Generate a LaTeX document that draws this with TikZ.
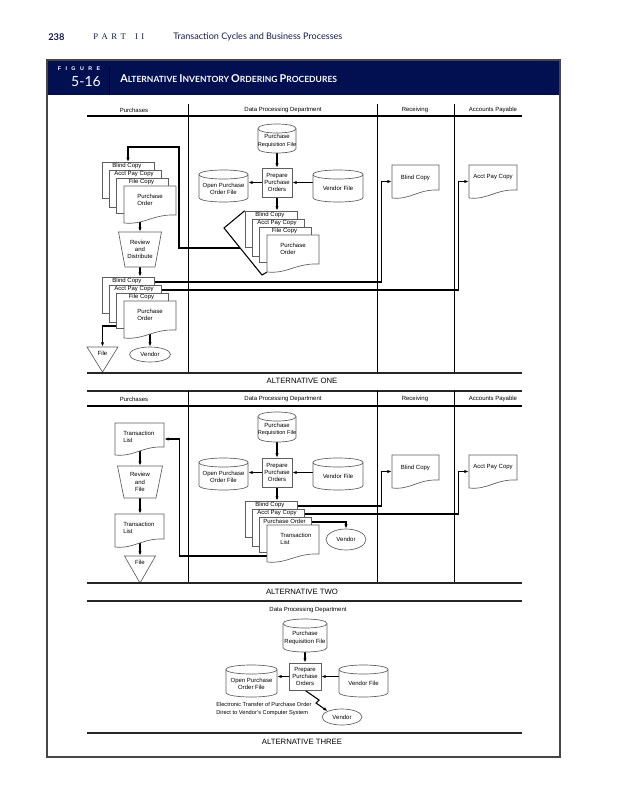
\documentclass[tikz,border=0pt]{standalone}
\usepackage{fontspec}
\setmainfont{Liberation Sans}
\newfontfamily\latofont{Lato}
\newfontfamily\serifx{Liberation Serif}
\usetikzlibrary{arrows.meta,fit,shapes.geometric}
\definecolor{navy}{RGB}{2,16,82}
\definecolor{hdr}{RGB}{22,28,78}
\definecolor{outl}{RGB}{95,95,95}
\definecolor{framecol}{RGB}{70,70,70}
\pgfdeclarelayer{bgpage}
\pgfdeclarelayer{background}
\pgfsetlayers{bgpage,background,main}

\newcommand{\bigsc}[2]{{\fontsize{8.1}{9}\selectfont #1}{\fontsize{6.4}{9}\selectfont #2}}

% cylinder: name, x1, y1, x2, y2, text
\newcommand{\cylx}[6]{%
  \filldraw[shp] ({#2},{(#3)+4.5}) -- ({#2},{(#5)-4.5}) .. controls ({#2},{(#5)+1.5}) and ({#4},{(#5)+1.5}) .. ({#4},{(#5)-4.5}) -- ({#4},{(#3)+4.5}) .. controls ({#4},{(#3)-1.5}) and ({#2},{(#3)-1.5}) .. ({#2},{(#3)+4.5}) -- cycle;
  \draw[shpline] ({#2},{(#3)+4.5}) .. controls ({#2},{(#3)+10.5}) and ({#4},{(#3)+10.5}) .. ({#4},{(#3)+4.5});
  \node[fit={({#2},{#3}) ({#4},{#5})}, inner sep=0pt] (#1) {};
  \node[txt] (#1-t) at ({((#2)+(#4))/2},{((#3)+(#5))/2+2.5}) {#6};
}
% document: name, x1, y1, x2, y2
\newcommand{\docx}[5]{%
  \filldraw[shp] ({#2},{#3}) -- ({#4},{#3}) -- ({#4},{(#5)-8}) .. controls ({(#2)+0.55*((#4)-(#2))},{(#5)-9}) and ({(#2)+0.4*((#4)-(#2))},{(#5)+2}) .. ({#2},{#5}) -- cycle;
  \node[fit={({#2},{#3}) ({#4},{#5})}, inner sep=0pt] (#1) {};
}
% stack of documents: name, X, Y, label1, label2, label3, front text
\newcommand{\stackx}[7]{%
  \filldraw[shp] ({#2},{#3}) rectangle ({(#2)+52},{(#3)+36});
  \node[fit={({#2},{#3}) ({(#2)+52},{(#3)+36})}, inner sep=0pt] (#1-1) {};
  \node[txt] (#1-1t) at ({(#2)+25},{(#3)+4.3}) {#4};
  \coordinate (#1-a) at ({(#2)+52},{(#3)+5});
  \filldraw[shp] ({(#2)+7},{(#3)+8}) rectangle ({(#2)+59},{(#3)+45});
  \node[fit={({(#2)+7},{(#3)+8}) ({(#2)+59},{(#3)+45})}, inner sep=0pt] (#1-2) {};
  \node[txt] (#1-2t) at ({(#2)+32},{(#3)+12.3}) {#5};
  \coordinate (#1-b) at ({(#2)+59},{(#3)+13});
  \filldraw[shp] ({(#2)+14},{(#3)+16}) rectangle ({(#2)+66},{(#3)+51});
  \node[fit={({(#2)+14},{(#3)+16}) ({(#2)+66},{(#3)+51})}, inner sep=0pt] (#1-3) {};
  \node[txt] (#1-3t) at ({(#2)+39.5},{(#3)+20.3}) {#6};
  \coordinate (#1-c) at ({(#2)+66},{(#3)+21});
  \docx{#1-f}{(#2)+22}{(#3)+24}{(#2)+74}{(#3)+61}
  \node[txt, align=left, anchor=west] (#1-ft) at ({(#2)+35},{(#3)+37.5}) {#7};
}
% trapezoid: name, cx, ytop, ybot, halftop, halfbot, text
\newcommand{\trapx}[7]{%
  \filldraw[shp] ({(#2)-(#5)},{#3}) -- ({(#2)+(#5)},{#3}) -- ({(#2)+(#6)},{#4}) -- ({(#2)-(#6)},{#4}) -- cycle;
  \node[fit={({(#2)-(#5)},{#3}) ({(#2)+(#5)},{#4})}, inner sep=0pt] (#1) {};
  \node[txt] (#1-t) at ({#2},{((#3)+(#4))/2}) {#7};
}
% inverted triangle: name, cx, ytop, ybot, half, text
\newcommand{\trix}[6]{%
  \filldraw[shp] ({(#2)-(#5)},{#3}) -- ({(#2)+(#5)},{#3}) -- ({#2},{#4}) -- cycle;
  \node[fit={({(#2)-(#5)},{#3}) ({(#2)+(#5)},{#4})}, inner sep=0pt] (#1) {};
  \node[txt] (#1-t) at ({#2},{(#3)+6.5}) {#6};
}
\newcommand{\reqfile}{Purchase\\{\fontsize{4.2}{5.4}\selectfont Requisition File}}

\begin{document}
\begin{tikzpicture}[x=0.75pt,y=-0.75pt,
  shp/.style={draw=outl, line width=0.5pt, fill=white},
  shpline/.style={draw=outl, line width=0.5pt},
  conn/.style={draw=black, line width=0.8pt},
  arr/.style={conn, -{Latex[length=3.3pt,width=2.5pt]}},
  txt/.style={font=\fontsize{4.5}{5.4}\selectfont, inner sep=0pt, align=center, text=black},
  alttxt/.style={font=\fontsize{5.8}{7}\selectfont, inner sep=0pt, text=black},
  thinrule/.style={draw=black, line width=1.0pt},
  thickrule/.style={draw=black!85, line width=1.7pt},
  divl/.style={draw=black, line width=0.7pt},
  boxx/.style={shp, rectangle, inner sep=0pt, font=\fontsize{4.5}{5.4}\selectfont, align=center, minimum width=22.5pt, minimum height=21.5pt},
  ell/.style={shp, ellipse, inner sep=0pt, font=\fontsize{4.5}{5.4}\selectfont}
]
\useasboundingbox (0,0) rectangle (639,800);
\begin{pgfonlayer}{bgpage}
  \fill[white] (0,0) rectangle (639,800);
\end{pgfonlayer}

% ---------- running head ----------
\node[anchor=west, inner sep=0pt, font=\latofont\bfseries\fontsize{7}{8}\selectfont, text=hdr] (pgnum) at (48,37) {238};
\node[anchor=west, inner sep=0pt, font=\serifx\fontsize{6.5}{8}\selectfont, text=hdr] (partlbl) at (93,37) {P\hspace{2.6pt}A\hspace{2.6pt}R\hspace{2.6pt}T\hspace{7pt}I\hspace{2.6pt}I};
\node[anchor=west, inner sep=0pt, font=\latofont\fontsize{6.8}{8}\selectfont, text=hdr] (runhead) at (173,37) {Transaction Cycles and Business Processes};

% ---------- frame and figure header ----------
\fill[navy] (47,60) rectangle (560,95);
\draw[framecol, line width=0.8pt] (47,60) rectangle (560,757);
\draw[black, line width=0.6pt] (109,67) -- (109,95);
\node[inner sep=0pt, text=white, font=\bfseries\fontsize{4}{5}\selectfont] (figlbl) at (79,68.5) {F\hspace{3.3pt}I\hspace{3.3pt}G\hspace{3.3pt}U\hspace{3.3pt}R\hspace{3.3pt}E};
\node[anchor=east, inner sep=0pt, text=white, font=\latofont\fontsize{10.5}{12}\selectfont] (fignum) at (101,82) {5-16};
\node[anchor=west, inner sep=0pt, text=white, font=\latofont\bfseries\fontsize{6.4}{9}\selectfont] (figtitle) at (120,79) {\bigsc{A}{LTERNATIVE} \bigsc{I}{NVENTORY} \bigsc{O}{RDERING} \bigsc{P}{ROCEDURES}};

% ---------- ALTERNATIVE ONE ----------
\foreach \xx in {188,377,454} \draw[divl] (\xx,104) -- (\xx,373);
\draw[thinrule] (87,116) -- (522,116);
\node[txt] (h1a) at (134,110) {Purchases};
\node[txt] (h1b) at (283,110) {Data Processing Department};
\node[txt] (h1c) at (415,110) {Receiving};
\node[txt] (h1d) at (493,110) {Accounts Payable};

\stackx{P1}{102}{162}{Blind Copy}{Acct Pay Copy}{File Copy}{Purchase\\Order}
\trapx{TR1}{140}{232}{267}{21.5}{15}{Review\\and\\Distribute}
\stackx{P2}{102}{277}{Blind Copy}{Acct Pay Copy}{File Copy}{Purchase\\Order}
\coordinate (P2fo) at (117,326);
\trix{FT1}{102.5}{347}{372}{15.5}{File}
\node[ell, minimum width=30.75pt, minimum height=11.25pt] (V1) at (150,354.5) {Vendor};

\cylx{PR1}{258}{124}{296}{153}{\reqfile}
\node[boxx] (PP1) at (277,182.5) {Prepare\\Purchase\\Orders};
\cylx{OP1}{199}{170}{248}{202}{Open Purchase\\Order File}
\cylx{VF1}{313}{170}{363}{202}{Vendor File}
\stackx{D1}{245}{211}{Blind Copy}{Acct Pay Copy}{File Copy}{Purchase\\Order}
\draw[conn] (D1-1.north west) -- (224,228) -- (262,275) -- (D1-f.south west);
\coordinate (W1) at (240,248);
\coordinate (P1in) at (128,162);

\docx{R1}{392}{165}{439}{198}
\node[txt] (R1-t) at (415.5,178) {Blind Copy};
\docx{A1}{469}{165}{517}{198}
\node[txt] (A1-t) at (493,177.5) {Acct Pay Copy};

\draw[thickrule] (87,373) -- (522,373);
\node[alttxt] (alt1) at (302,381) {ALTERNATIVE ONE};

% ---------- ALTERNATIVE TWO ----------
\draw[thickrule] (87,391) -- (522,391);
\foreach \xx in {188,377,454} \draw[divl] (\xx,391) -- (\xx,583);
\draw[thinrule] (87,406) -- (522,406);
\node[txt] (h2a) at (134,399) {Purchases};
\node[txt] (h2b) at (283,399) {Data Processing Department};
\node[txt] (h2c) at (415,399) {Receiving};
\node[txt] (h2d) at (493,399) {Accounts Payable};

\docx{TL1}{115}{423}{164}{455}
\node[txt, align=left, anchor=west] (TL1-t) at (123,436.5) {Transaction\\List};
\trapx{TR2}{140}{466}{498}{22.5}{16}{Review\\and\\File}
\docx{TL2}{115}{514}{164}{547}
\node[txt, align=left, anchor=west] (TL2-t) at (123,527.5) {Transaction\\List};
\trix{FT2}{140}{556}{583}{15.5}{File}

\cylx{PR2}{258}{412}{296}{442}{\reqfile}
\node[boxx] (PP2) at (277,472.5) {Prepare\\Purchase\\Orders};
\cylx{OP2}{199}{458}{248}{490}{Open Purchase\\Order File}
\cylx{VF2}{313}{458}{363}{490}{Vendor File}
\stackx{D2}{245}{501}{Blind Copy}{Acct Pay Copy}{Purchase Order}{Transaction\\List}
\coordinate (D2ret) at (285,556);
\node[ell, minimum width=30pt, minimum height=15.75pt] (V2) at (346,539.5) {Vendor};

\docx{R2}{392}{455}{439}{488}
\node[txt] (R2-t) at (415.5,468) {Blind Copy};
\docx{A2}{469}{455}{517}{488}
\node[txt] (A2-t) at (493,467.5) {Acct Pay Copy};

\draw[thickrule] (87,583) -- (522,583);
\node[alttxt] (alt2) at (302,592) {ALTERNATIVE TWO};
\draw[thickrule] (87,601) -- (522,601);

% ---------- ALTERNATIVE THREE ----------
\node[txt] (h3) at (308,610) {Data Processing Department};
\cylx{PR3}{283}{619}{327}{652}{Purchase\\Requisition File}
\node[boxx, minimum width=24pt, minimum height=20.25pt] (PP3) at (305,676.5) {Prepare\\Purchase\\Orders};
\cylx{OP3}{226}{665}{277}{697}{Open Purchase\\Order File}
\cylx{VF3}{339}{665}{388}{697}{Vendor File}
\node[ell, minimum width=30pt, minimum height=12pt] (V3) at (342,717) {Vendor};
\node[txt, align=left, anchor=west, font=\fontsize{4.25}{5.4}\selectfont] (etext) at (216,709) {Electronic Transfer of Purchase Order\\Direct to Vendor's Computer System};

\draw[thickrule] (87,733) -- (522,733);
\node[alttxt] (alt3) at (302,742) {ALTERNATIVE THREE};

% ---------- connectors ----------
\begin{pgfonlayer}{background}
  % alternative one
  \draw[arr] (W1) -| (179,147) -| (P1in);
  \draw[arr] (P1-f.center -| TR1.north) -- (TR1.north);
  \draw[arr] (TR1.south) -- (TR1.south |- P2-1.north);
  \draw[arr] (P2fo) -| (FT1.north);
  \draw[arr] (P2-f.center -| V1.north) -- (V1.north);
  \draw[arr] (PR1.south) -- (PP1.north);
  \draw[arr] (PP1.west) -- (PP1.west -| OP1.east);
  \draw[arr] (VF1.west |- PP1.east) -- (PP1.east);
  \draw[arr] (PP1.south) -- (PP1.south |- D1-1.north);
  \draw[arr] (P2-a) -| ([xshift=-7.5pt]R1.west) -- (R1.west);
  \draw[arr] (P2-b) -| ([xshift=-7.5pt]A1.west) -- (A1.west);
  % alternative two
  \draw[arr] (TL1.center -| TR2.north) -- (TR2.north);
  \draw[arr] (TR2.south) -- (TR2.south |- TL2.north);
  \draw[arr] (TL2.center -| FT2.north) -- (FT2.north);
  \draw[arr] (PR2.south) -- (PP2.north);
  \draw[arr] (PP2.west) -- (PP2.west -| OP2.east);
  \draw[arr] (VF2.west |- PP2.east) -- (PP2.east);
  \draw[arr] (PP2.south) -- (PP2.south |- D2-1.north);
  \draw[arr] (D2ret) -| ([xshift=11.25pt]TL1.east) -- (TL1.east);
  \draw[arr] (D2-a) -| ([xshift=-7.5pt]R2.west) -- (R2.west);
  \draw[arr] (D2-b) -| ([xshift=-7.5pt]A2.west) -- (A2.west);
  \draw[arr] (D2-c) -| (V2.north);
  % alternative three
  \draw[arr] (PP3.south) -- (319,700) -- (316,703) -- (V3.north west);
  \draw[arr] (PR3.south) -- (PP3.north);
  \draw[arr] (PP3.west) -- (PP3.west -| OP3.east);
  \draw[arr] (VF3.west |- PP3.east) -- (PP3.east);
\end{pgfonlayer}
\end{tikzpicture}
\end{document}
